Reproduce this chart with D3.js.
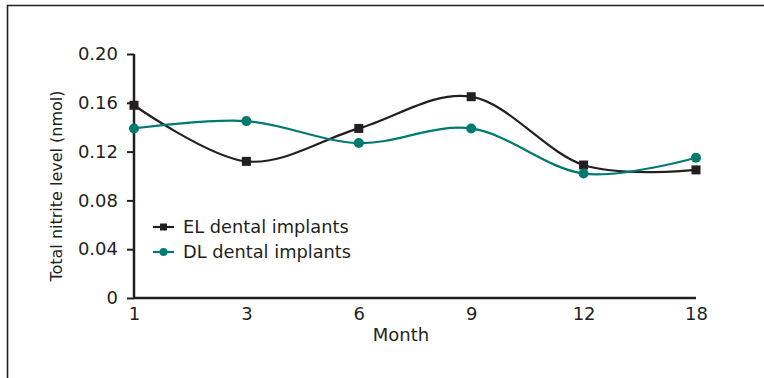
<!DOCTYPE html>
<html>
<head>
<meta charset="utf-8">
<script src="https://cdn.jsdelivr.net/npm/d3@7"></script>
<style>
  body { margin: 0; background: #fff; }
  svg text { font-family: "DejaVu Sans", sans-serif; fill: #231f20; }
</style>
</head>
<body>
<div id="chart"></div>
<script>
// chart data
var months = ["1", "3", "6", "9", "12", "18"];
var elValues = [0.158, 0.112, 0.139, 0.165, 0.109, 0.105];
var dlValues = [0.139, 0.145, 0.127, 0.139, 0.102, 0.115];
var yTicks = [0, 0.04, 0.08, 0.12, 0.16, 0.20];

var W = 764, H = 378;
var margin = { top: 54, right: 68, bottom: 80, left: 134 },
  width = W - margin.left - margin.right,
  height = H - margin.top - margin.bottom;

var ink = "#231f20", teal = "#007a70";

var svg = d3.select("#chart").append("svg")
  .attr("width", W)
  .attr("height", H);

// outer frame (top and left edges visible)
svg.append("path")
  .attr("d", "M7.5," + H + "V5.5H" + W)
  .attr("fill", "none")
  .attr("stroke", ink)
  .attr("stroke-width", 1.6);

var g = svg.append("g")
  .attr("transform", "translate(" + margin.left + "," + margin.top + ")");

var x = d3.scalePoint().domain(months).range([0, width]);
var y = d3.scaleLinear().domain([0, 0.20]).range([height, 0]);

// y axis
var yAxis = d3.axisLeft(y)
  .tickValues(yTicks)
  .tickSize(7)
  .tickPadding(9)
  .tickFormat(function (d) { return d === 0 ? "0" : d3.format(".2f")(d); });

var ya = g.append("g").call(yAxis);
ya.select(".domain").attr("stroke", ink).attr("stroke-width", 2.5).attr("d", "M0," + height + "V0");
ya.selectAll(".tick line").attr("stroke", ink).attr("stroke-width", 2);
ya.selectAll(".tick text").style("font-size", "18px").attr("fill", ink);

// x axis
var xAxis = d3.axisBottom(x).tickSize(0).tickPadding(9);
var xa = g.append("g").attr("transform", "translate(0," + height + ")").call(xAxis);
xa.select(".domain").attr("stroke", ink).attr("stroke-width", 2.5).attr("d", "M0,0H" + width);
xa.selectAll(".tick text").style("font-size", "18px").attr("fill", ink);

// axis titles
g.append("text")
  .attr("transform", "rotate(-90)")
  .attr("x", -height / 2 - 10)
  .attr("y", -72)
  .attr("text-anchor", "middle")
  .style("font-size", "16px")
  .text("Total nitrite level (nmol)");

g.append("text")
  .attr("x", width / 2 - 14)
  .attr("y", height + 43)
  .attr("text-anchor", "middle")
  .style("font-size", "18px")
  .text("Month");

var line = d3.line()
  .x(function (d, i) { return x(months[i]); })
  .y(function (d) { return y(d); })
  .curve(d3.curveCardinal.tension(0));

// EL series
g.append("path")
  .datum(elValues)
  .attr("fill", "none")
  .attr("stroke", ink)
  .attr("stroke-width", 2.2)
  .attr("d", line);

// DL series
g.append("path")
  .datum(dlValues)
  .attr("fill", "none")
  .attr("stroke", teal)
  .attr("stroke-width", 2.2)
  .attr("d", line);

g.selectAll(".el-pt")
  .data(elValues)
  .enter().append("rect")
  .attr("x", function (d, i) { return x(months[i]) - 4.5; })
  .attr("y", function (d) { return y(d) - 4.5; })
  .attr("width", 9)
  .attr("height", 9)
  .attr("fill", ink);

g.selectAll(".dl-pt")
  .data(dlValues)
  .enter().append("circle")
  .attr("cx", function (d, i) { return x(months[i]); })
  .attr("cy", function (d) { return y(d); })
  .attr("r", 5)
  .attr("fill", teal);

// legend
var legend = [
  { label: "EL dental implants", color: ink, shape: "square" },
  { label: "DL dental implants", color: teal, shape: "circle" }
];

var lg = svg.append("g").attr("transform", "translate(153,227)");
legend.forEach(function (d, i) {
  var row = lg.append("g").attr("transform", "translate(0," + (i * 25) + ")");
  row.append("line")
    .attr("x1", 0).attr("x2", 21)
    .attr("stroke", d.color).attr("stroke-width", 2.2);
  if (d.shape === "square") {
    row.append("rect").attr("x", 7).attr("y", -3.5).attr("width", 7).attr("height", 7).attr("fill", d.color);
  } else {
    row.append("circle").attr("cx", 10.5).attr("r", 4).attr("fill", d.color);
  }
  row.append("text")
    .attr("x", 30)
    .attr("dy", "0.35em")
    .style("font-size", "17.8px")
    .text(d.label);
});
</script>
</body>
</html>
